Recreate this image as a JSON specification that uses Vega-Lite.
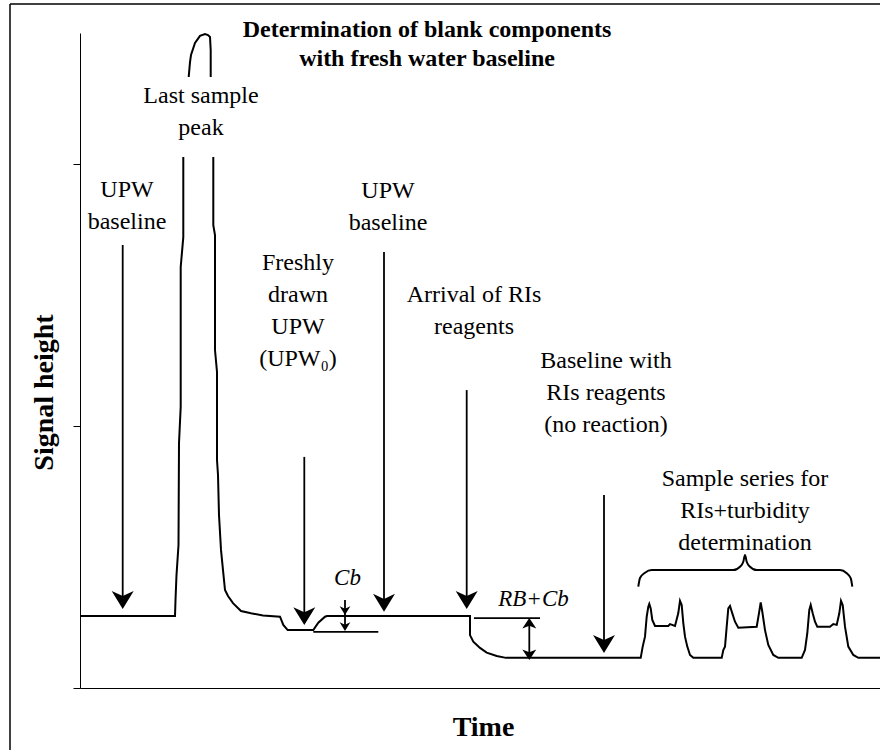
{
  "$schema": "https://vega.github.io/schema/vega-lite/v6.json",
  "width": 800,
  "height": 655,
  "autosize": {"type": "none"},
  "padding": {"left": 80, "top": 33, "right": 0, "bottom": 62},
  "background": "white",
  "config": {"view": {"stroke": null}, "font": "Liberation Serif"},
  "datasets": {
    "frame": [{"x": -70, "x2": 830, "y": -30, "y2": 261.1}],
    "trace": [
      {"i": 1, "seg": "A", "x": 0, "y": 27.5},
      {"i": 2, "seg": "A", "x": 95, "y": 27.5},
      {"i": 3, "seg": "A", "x": 95.5, "y": 33.6},
      {"i": 4, "seg": "A", "x": 96.5, "y": 43.1},
      {"i": 5, "seg": "A", "x": 98.5, "y": 54.6},
      {"i": 6, "seg": "A", "x": 99, "y": 93.5},
      {"i": 7, "seg": "A", "x": 100.7, "y": 107.3},
      {"i": 8, "seg": "A", "x": 100.7, "y": 160.7},
      {"i": 9, "seg": "A", "x": 103.3, "y": 172.1},
      {"i": 10, "seg": "A", "x": 103.3, "y": 202.7},
      {"i": 11, "seg": "B", "x": 108.7, "y": 233.2},
      {"i": 12, "seg": "B", "x": 110, "y": 238.9},
      {"i": 13, "seg": "B", "x": 111, "y": 241.6},
      {"i": 14, "seg": "B", "x": 115, "y": 246.2},
      {"i": 15, "seg": "B", "x": 120, "y": 248.9},
      {"i": 16, "seg": "B", "x": 125, "y": 249.6},
      {"i": 17, "seg": "B", "x": 128, "y": 249.2},
      {"i": 18, "seg": "B", "x": 130, "y": 248.5},
      {"i": 19, "seg": "B", "x": 130.7, "y": 243.5},
      {"i": 20, "seg": "B", "x": 130.7, "y": 233.2},
      {"i": 21, "seg": "C", "x": 133.3, "y": 202.7},
      {"i": 22, "seg": "C", "x": 133.3, "y": 176.7},
      {"i": 23, "seg": "C", "x": 135, "y": 172.9},
      {"i": 24, "seg": "C", "x": 135, "y": 129},
      {"i": 25, "seg": "C", "x": 137, "y": 120.6},
      {"i": 26, "seg": "C", "x": 137, "y": 87},
      {"i": 27, "seg": "C", "x": 138, "y": 81.3},
      {"i": 28, "seg": "C", "x": 139, "y": 66},
      {"i": 29, "seg": "C", "x": 141, "y": 52.7},
      {"i": 30, "seg": "C", "x": 143, "y": 45},
      {"i": 31, "seg": "C", "x": 145, "y": 37.4},
      {"i": 32, "seg": "C", "x": 148, "y": 35.1},
      {"i": 33, "seg": "C", "x": 153, "y": 32.4},
      {"i": 34, "seg": "C", "x": 161, "y": 29.4},
      {"i": 35, "seg": "C", "x": 171, "y": 28.5},
      {"i": 36, "seg": "C", "x": 183, "y": 27.7},
      {"i": 37, "seg": "C", "x": 200, "y": 27.2},
      {"i": 38, "seg": "C", "x": 203.3, "y": 24.1},
      {"i": 39, "seg": "C", "x": 207.7, "y": 22.1},
      {"i": 40, "seg": "C", "x": 233.3, "y": 22.1},
      {"i": 41, "seg": "C", "x": 238.3, "y": 24.9},
      {"i": 42, "seg": "C", "x": 245, "y": 27.2},
      {"i": 43, "seg": "C", "x": 247, "y": 27.5},
      {"i": 44, "seg": "C", "x": 390, "y": 27.5},
      {"i": 45, "seg": "C", "x": 390, "y": 20.2},
      {"i": 46, "seg": "C", "x": 393.3, "y": 17.7},
      {"i": 47, "seg": "C", "x": 400, "y": 15.3},
      {"i": 48, "seg": "C", "x": 406.7, "y": 13.5},
      {"i": 49, "seg": "C", "x": 416.7, "y": 12.2},
      {"i": 50, "seg": "C", "x": 426, "y": 11.5},
      {"i": 51, "seg": "C", "x": 560.7, "y": 11.5},
      {"i": 52, "seg": "C", "x": 562.7, "y": 15.8},
      {"i": 53, "seg": "C", "x": 565, "y": 19.6},
      {"i": 54, "seg": "C", "x": 566.7, "y": 27.2},
      {"i": 55, "seg": "C", "x": 568.3, "y": 31},
      {"i": 56, "seg": "C", "x": 569.3, "y": 32.1},
      {"i": 57, "seg": "C", "x": 570.7, "y": 30.4},
      {"i": 58, "seg": "C", "x": 572.3, "y": 26},
      {"i": 59, "seg": "C", "x": 575, "y": 23.7},
      {"i": 60, "seg": "C", "x": 588.3, "y": 23.7},
      {"i": 61, "seg": "C", "x": 590, "y": 24.4},
      {"i": 62, "seg": "C", "x": 595, "y": 23.7},
      {"i": 63, "seg": "C", "x": 598.3, "y": 28.6},
      {"i": 64, "seg": "C", "x": 600, "y": 33.3},
      {"i": 65, "seg": "C", "x": 601.7, "y": 31.7},
      {"i": 66, "seg": "C", "x": 603.3, "y": 24.8},
      {"i": 67, "seg": "C", "x": 605, "y": 19.6},
      {"i": 68, "seg": "C", "x": 607.3, "y": 15.8},
      {"i": 69, "seg": "C", "x": 610, "y": 12.6},
      {"i": 70, "seg": "C", "x": 613.3, "y": 11.5},
      {"i": 71, "seg": "C", "x": 641.7, "y": 11.5},
      {"i": 72, "seg": "C", "x": 643.3, "y": 14.5},
      {"i": 73, "seg": "C", "x": 645, "y": 15.8},
      {"i": 74, "seg": "C", "x": 646.7, "y": 23.4},
      {"i": 75, "seg": "C", "x": 648.3, "y": 30.4},
      {"i": 76, "seg": "C", "x": 650, "y": 31.3},
      {"i": 77, "seg": "C", "x": 652.3, "y": 28.5},
      {"i": 78, "seg": "C", "x": 655, "y": 25.3},
      {"i": 79, "seg": "C", "x": 658.3, "y": 23},
      {"i": 80, "seg": "C", "x": 676.7, "y": 23.4},
      {"i": 81, "seg": "C", "x": 679, "y": 28.6},
      {"i": 82, "seg": "C", "x": 680.7, "y": 32.7},
      {"i": 83, "seg": "C", "x": 682.3, "y": 29.1},
      {"i": 84, "seg": "C", "x": 685, "y": 22.1},
      {"i": 85, "seg": "C", "x": 688.3, "y": 16.4},
      {"i": 86, "seg": "C", "x": 693.3, "y": 12.6},
      {"i": 87, "seg": "C", "x": 698.3, "y": 11.5},
      {"i": 88, "seg": "C", "x": 721.7, "y": 11.5},
      {"i": 89, "seg": "C", "x": 725, "y": 14.5},
      {"i": 90, "seg": "C", "x": 727.3, "y": 20.9},
      {"i": 91, "seg": "C", "x": 729.3, "y": 29.8},
      {"i": 92, "seg": "C", "x": 730.7, "y": 31.7},
      {"i": 93, "seg": "C", "x": 732.7, "y": 28.5},
      {"i": 94, "seg": "C", "x": 735, "y": 25.3},
      {"i": 95, "seg": "C", "x": 737.3, "y": 23.4},
      {"i": 96, "seg": "C", "x": 750, "y": 23.4},
      {"i": 97, "seg": "C", "x": 753.3, "y": 24.4},
      {"i": 98, "seg": "C", "x": 756.7, "y": 24.1},
      {"i": 99, "seg": "C", "x": 759.3, "y": 28.5},
      {"i": 100, "seg": "C", "x": 761, "y": 33.3},
      {"i": 101, "seg": "C", "x": 762.7, "y": 31.7},
      {"i": 102, "seg": "C", "x": 765, "y": 23.4},
      {"i": 103, "seg": "C", "x": 768.3, "y": 15.8},
      {"i": 104, "seg": "C", "x": 773.3, "y": 12.6},
      {"i": 105, "seg": "C", "x": 778.3, "y": 11.5},
      {"i": 106, "seg": "C", "x": 800, "y": 11.5}
    ],
    "brace": [
      {"x": 558.3, "y": 38.7},
      {"x": 560, "y": 42},
      {"x": 565, "y": 44},
      {"x": 571.7, "y": 45},
      {"x": 653.3, "y": 45},
      {"x": 660, "y": 46.3},
      {"x": 663.3, "y": 48.2},
      {"x": 665, "y": 50.8},
      {"x": 666.7, "y": 48.2},
      {"x": 670, "y": 46.3},
      {"x": 676.7, "y": 45},
      {"x": 760, "y": 45},
      {"x": 766.7, "y": 43.8},
      {"x": 770.7, "y": 41.9},
      {"x": 772.3, "y": 38.7}
    ],
    "rules": [
      {"x": 42.7, "y": 169.1, "x2": 42.7, "y2": 33},
      {"x": 224.3, "y": 88.2, "x2": 224.3, "y2": 27},
      {"x": 304, "y": 166.4, "x2": 304, "y2": 32},
      {"x": 386.7, "y": 113.7, "x2": 386.7, "y2": 33},
      {"x": 524, "y": 73.7, "x2": 524, "y2": 16},
      {"x": 265, "y": 33.6, "x2": 265, "y2": 23},
      {"x": 449.3, "y": 25, "x2": 449.3, "y2": 12.5},
      {"x": 233.3, "y": 21.4, "x2": 298.3, "y2": 21.4},
      {"x": 394, "y": 26.7, "x2": 460, "y2": 26.7}
    ],
    "heads": [
      {"kind": "big", "x": 42.7, "y": 30.2},
      {"kind": "big", "x": 224.3, "y": 24.0},
      {"kind": "big", "x": 304, "y": 29.1},
      {"kind": "big", "x": 386.7, "y": 30.2},
      {"kind": "big", "x": 524, "y": 13.4},
      {"kind": "cb", "x": 265, "y": 27.9},
      {"kind": "cb", "x": 265, "y": 21.8},
      {"kind": "rbdown", "x": 449.3, "y": 10.7},
      {"kind": "rbup", "x": 449.3, "y": 26.7}
    ],
    "labels": [
      {"kind": "title", "x": 347, "y": 248.5, "text": "Determination of blank components|with fresh water baseline"},
      {"kind": "regular", "x": 47, "y": 187.4, "text": "UPW|baseline"},
      {"kind": "regular", "x": 121, "y": 223.3, "text": "Last sample|peak"},
      {"kind": "regular", "x": 218, "y": 159.5, "text": "Freshly|drawn|UPW|(UPW₀)"},
      {"kind": "regular", "x": 308, "y": 187.0, "text": "UPW|baseline"},
      {"kind": "regular", "x": 394, "y": 147.3, "text": "Arrival of RIs|reagents"},
      {"kind": "regular", "x": 526, "y": 122.1, "text": "Baseline with|RIs reagents|(no reaction)"},
      {"kind": "regular", "x": 665, "y": 77.1, "text": "Sample series for|RIs+turbidity|determination"},
      {"kind": "italic", "x": 267.5, "y": 39.3, "text": "Cb"},
      {"kind": "italic", "x": 453.5, "y": 31.3, "text": "RB+Cb"}
    ]
  },
  "encoding": {
    "x": {
      "field": "x",
      "type": "quantitative",
      "scale": {"domain": [0, 800], "nice": false, "zero": false},
      "axis": {
        "title": "Time",
        "domain": true,
        "domainColor": "black",
        "domainWidth": 1.2,
        "ticks": false,
        "labels": false,
        "grid": false,
        "titleFont": "Liberation Serif",
        "titleFontSize": 28,
        "titleFontWeight": "bold",
        "titleColor": "black",
        "titleX": 403,
        "titleY": 47,
        "titleAlign": "center",
        "titleBaseline": "alphabetic",
        "titleAngle": 0
      }
    },
    "y": {
      "field": "y",
      "type": "quantitative",
      "scale": {"domain": [0, 250], "nice": false, "zero": false},
      "axis": {
        "title": "Signal height",
        "values": [0, 100, 200],
        "domain": true,
        "domainColor": "black",
        "domainWidth": 1,
        "ticks": true,
        "tickColor": "black",
        "tickSize": 7,
        "tickWidth": 1,
        "labels": false,
        "grid": false,
        "titleFont": "Liberation Serif",
        "titleFontSize": 28,
        "titleFontWeight": "bold",
        "titleColor": "black",
        "titleX": -28,
        "titleY": 359,
        "titleAngle": -90,
        "titleAlign": "center",
        "titleBaseline": "alphabetic"
      }
    }
  },
  "layer": [
    {
      "data": {"name": "frame"},
      "mark": {"type": "rule", "color": "black", "strokeWidth": 1.5, "clip": false},
      "encoding": {
        "y2": {"field": "y2"}
      }
    },
    {
      "data": {"name": "frame"},
      "mark": {"type": "rule", "color": "black", "strokeWidth": 1.5, "clip": false},
      "encoding": {
        "x2": {"field": "x2"},
        "y": {"field": "y2", "type": "quantitative"}
      }
    },
    {
      "data": {"name": "trace"},
      "mark": {"type": "line", "color": "black", "strokeWidth": 2, "clip": false},
      "encoding": {
        "detail": {"field": "seg"},
        "order": {"field": "i", "type": "quantitative"}
      }
    },
    {
      "data": {"name": "brace"},
      "mark": {"type": "line", "color": "black", "strokeWidth": 2, "interpolate": "monotone"},
      "encoding": {}
    },
    {
      "data": {"name": "rules"},
      "mark": {"type": "rule", "color": "black", "strokeWidth": 1.8},
      "encoding": {
        "x2": {"field": "x2"},
        "y2": {"field": "y2"}
      }
    },
    {
      "data": {"name": "heads"},
      "transform": [{"filter": "datum.kind == 'big'"}],
      "mark": {"type": "point", "filled": true, "color": "black", "opacity": 1, "size": 484, "shape": "M0,0L-1,-1.63L0,-1.17L1,-1.63Z"},
      "encoding": {}
    },
    {
      "data": {"name": "heads"},
      "transform": [{"filter": "datum.kind == 'cb'"}],
      "mark": {"type": "point", "filled": true, "color": "black", "opacity": 1, "size": 114, "shape": "M0,0L-1,-1.63L0,-1.17L1,-1.63Z"},
      "encoding": {}
    },
    {
      "data": {"name": "heads"},
      "transform": [{"filter": "datum.kind == 'rbdown'"}],
      "mark": {"type": "point", "filled": true, "color": "black", "opacity": 1, "size": 196, "shape": "M0,0L-1,-1.5L0,-1.1L1,-1.5Z"},
      "encoding": {}
    },
    {
      "data": {"name": "heads"},
      "transform": [{"filter": "datum.kind == 'rbup'"}],
      "mark": {"type": "point", "filled": true, "color": "black", "opacity": 1, "size": 196, "angle": 180, "shape": "M0,0L-1,-1.5L0,-1.1L1,-1.5Z"},
      "encoding": {}
    },
    {
      "data": {"name": "labels"},
      "transform": [{"filter": "datum.kind == 'title'"}],
      "mark": {"type": "text", "font": "Liberation Serif", "fontSize": 24, "fontWeight": "bold", "color": "black", "align": "center", "baseline": "alphabetic", "lineBreak": "|", "lineHeight": 29, "clip": false},
      "encoding": {"text": {"field": "text"}}
    },
    {
      "data": {"name": "labels"},
      "transform": [{"filter": "datum.kind == 'regular'"}],
      "mark": {"type": "text", "font": "Liberation Serif", "fontSize": 24, "color": "black", "align": "center", "baseline": "alphabetic", "lineBreak": "|", "lineHeight": 32},
      "encoding": {"text": {"field": "text"}}
    },
    {
      "data": {"name": "labels"},
      "transform": [{"filter": "datum.kind == 'italic'"}],
      "mark": {"type": "text", "font": "Liberation Serif", "fontSize": 23, "fontStyle": "italic", "color": "black", "align": "center", "baseline": "alphabetic"},
      "encoding": {"text": {"field": "text"}}
    }
  ]
}
